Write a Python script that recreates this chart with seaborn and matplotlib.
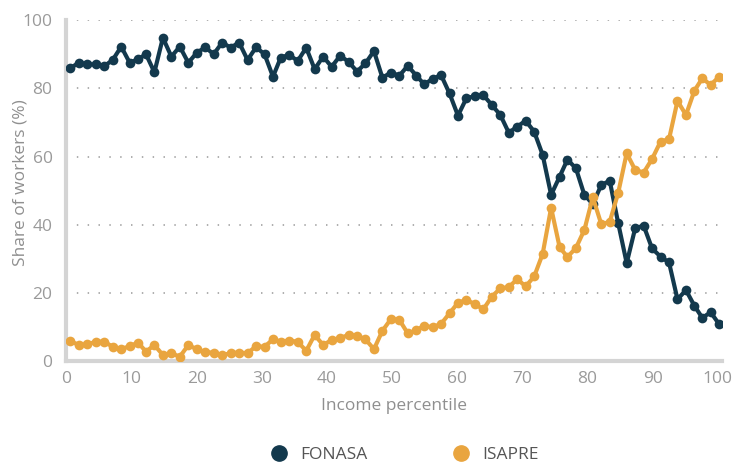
#Share of workers by health insurance across the income distribution
import numpy as np
import pandas as pd
import matplotlib
matplotlib.use("Agg")
import matplotlib.pyplot as plt
from matplotlib.lines import Line2D
import seaborn as sns

#Datos
percentile = [0.6, 1.9, 3.2, 4.5, 5.8, 7.1, 8.4, 9.7, 11.0, 12.2,
              13.5, 14.8, 16.1, 17.4, 18.7, 20.0, 21.3, 22.6, 23.9, 25.2,
              26.5, 27.8, 29.1, 30.4, 31.7, 32.9, 34.2, 35.5, 36.8, 38.1,
              39.4, 40.7, 42.0, 43.3, 44.6, 45.9, 47.2, 48.5, 49.8, 51.1,
              52.4, 53.7, 54.9, 56.2, 57.5, 58.8, 60.1, 61.4, 62.7, 64.0,
              65.3, 66.6, 67.9, 69.2, 70.5, 71.8, 73.1, 74.4, 75.7, 76.9,
              78.2, 79.5, 80.8, 82.1, 83.4, 84.7, 86.0, 87.3, 88.6, 89.9,
              91.2, 92.5, 93.8, 95.1, 96.4, 97.6, 98.9, 100.2]

fonasa = [85.9, 87.5, 87.0, 87.0, 86.5, 88.3, 92.2, 87.5, 88.5, 90.0,
          84.7, 94.8, 89.3, 92.2, 87.5, 90.4, 92.0, 90.0, 93.4, 91.9,
          93.4, 88.3, 92.0, 90.0, 83.4, 89.0, 89.8, 88.0, 91.9, 85.6,
          89.3, 86.3, 89.5, 87.8, 84.9, 87.3, 90.9, 83.1, 84.6, 83.7,
          86.6, 83.7, 81.2, 82.7, 83.9, 78.5, 72.0, 77.1, 77.7, 78.0,
          75.1, 72.2, 67.0, 68.8, 70.5, 67.3, 60.5, 48.8, 54.1, 59.1,
          56.6, 48.8, 46.1, 51.7, 52.9, 40.5, 28.8, 39.0, 39.8, 33.1,
          30.7, 29.0, 18.2, 20.9, 16.3, 12.8, 14.4, 10.9]

isapre = [6.0, 4.8, 5.0, 5.8, 5.8, 4.3, 3.6, 4.5, 5.5, 2.9,
          4.8, 1.9, 2.4, 1.4, 4.8, 3.6, 2.7, 2.6, 1.9, 2.4,
          2.6, 2.4, 4.5, 4.3, 6.5, 5.8, 6.1, 5.8, 3.1, 7.8,
          4.8, 6.3, 6.8, 7.8, 7.5, 6.5, 3.6, 9.0, 12.4, 12.2,
          8.2, 9.1, 10.5, 10.0, 11.0, 14.1, 17.2, 18.0, 16.8, 15.3,
          19.0, 21.4, 21.8, 24.1, 22.0, 24.9, 31.5, 45.0, 33.5, 30.6,
          33.2, 38.5, 48.1, 40.2, 40.9, 49.4, 61.0, 56.1, 55.3, 59.3,
          64.4, 65.1, 76.3, 72.2, 79.3, 82.9, 81.0, 83.4]

series = ["FONASA", "ISAPRE"]
colors = ["#13394d", "#e9a53f"]
y_ticks = [0, 20, 40, 60, 80, 100]
x_ticks = [0, 10, 20, 30, 40, 50, 60, 70, 80, 90, 100]

df = pd.DataFrame({
    "percentile": percentile * 2,
    "share": fonasa + isapre,
    "plan": ["FONASA"] * len(fonasa) + ["ISAPRE"] * len(isapre),
})

sns.set_style("white")
plt.rcParams["font.family"] = ["Open Sans", "DejaVu Sans"]

fig = plt.figure(figsize=(7.33, 4.65), dpi=100)
ax = fig.add_axes([0.0907, 0.2226, 0.894, 0.7344])

sns.lineplot(data=df, x="percentile", y="share", hue="plan", hue_order=series,
             palette=colors, marker="o", markersize=7, markeredgewidth=0,
             linewidth=3, legend=False, ax=ax, zorder=3)

ax.set_xlim(0, 100.6)
ax.set_ylim(0, 100)
ax.set_xticks(x_ticks)
ax.set_yticks(y_ticks)

#Grilla punteada solo en y
for v in y_ticks[1:]:
    ax.axhline(v, color="#a8a8a8", lw=1.3, ls=(0, (0.8, 5.2)), zorder=1)

for side in ["top", "right"]:
    ax.spines[side].set_visible(False)
for side in ["left", "bottom"]:
    ax.spines[side].set_color("#d4d4d4")
    ax.spines[side].set_linewidth(3)

ax.tick_params(axis="both", colors="#d4d4d4", length=6, width=2,
               labelcolor="#9a9a9a", labelsize=12.5, direction="out")
ax.tick_params(axis="x", pad=1)
ax.tick_params(axis="y", pad=4)

ax.set_xlabel("Income percentile", fontsize=12.5, color="#8f8f8f", labelpad=8)
ax.set_ylabel("Share of workers (%)", fontsize=12.5, color="#8f8f8f")
ax.yaxis.set_label_coords(-0.058, 0.525)

handles = [Line2D([], [], marker="o", ls="none", color=c, markersize=11) for c in colors]
fig.legend(handles, series, loc="center", bbox_to_anchor=(0.546, 0.021),
           ncol=2, frameon=False, fontsize=12.5, handletextpad=0.2,
           columnspacing=4.4, labelcolor="#555555")

fig.savefig("out.png", dpi=100)
